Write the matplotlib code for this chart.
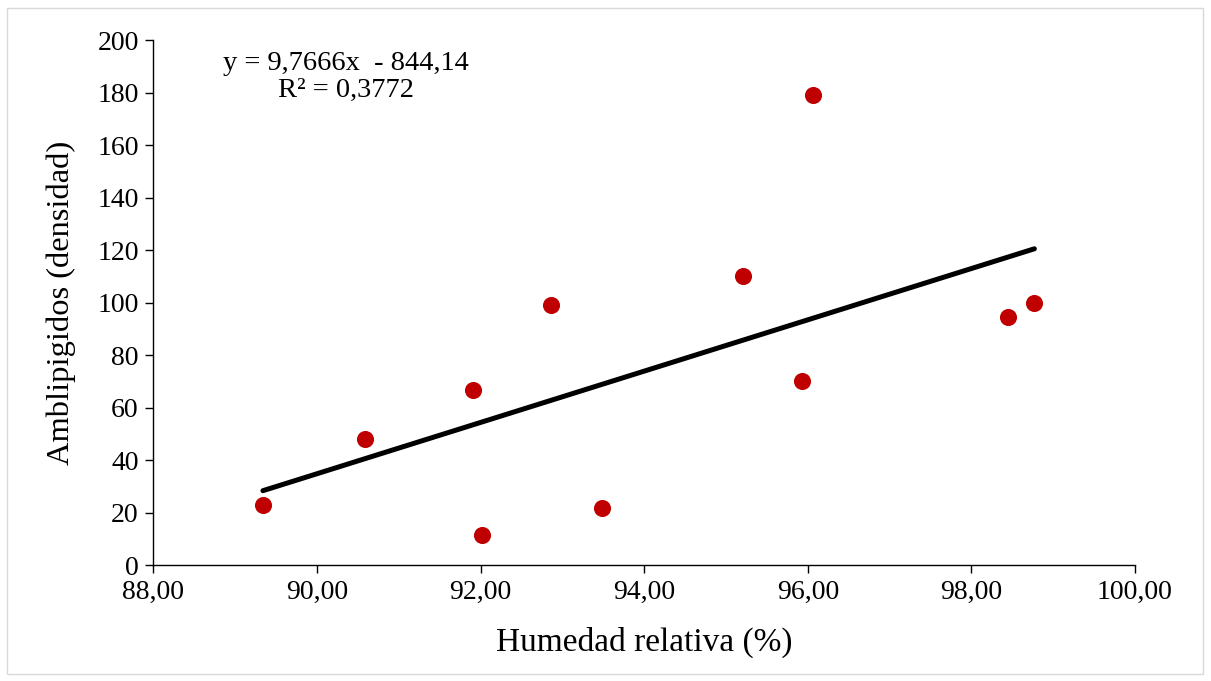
import matplotlib
matplotlib.use("Agg")
import matplotlib.pyplot as plt
from matplotlib.patches import Rectangle
import numpy as np

plt.rcParams['font.family'] = ['Liberation Serif', 'DejaVu Serif']

humedad = [89.34, 90.59, 91.91, 92.02, 92.86, 93.48, 95.21, 95.93, 96.07, 98.45, 98.77]
densidad = [22.9, 48.0, 66.7, 11.6, 99.2, 21.8, 110.0, 70.1, 179.1, 94.7, 100.0]
slope = 9.7666
intercept = -844.14
eq_text = "y = 9,7666x  - 844,14\nR² = 0,3772"
xticks = [88, 90, 92, 94, 96, 98, 100]
yticks = list(range(0, 201, 20))

fig = plt.figure(figsize=(12.11, 6.81), dpi=100)
ax = fig.add_axes([153.3/1211, 1-565.3/681, (1135-153.3)/1211, (565.3-40)/681])

ax.scatter(humedad, densidad, s=12.3**2, color='#c00000', zorder=3, linewidths=0)
xs = np.array([min(humedad), max(humedad)])
ax.plot(xs, slope*xs + intercept, color='black', lw=3.6, solid_capstyle='round', zorder=2)

ax.set_xlim(88, 100)
ax.set_ylim(0, 200)
ax.set_xticks(xticks)
ax.set_xticklabels([f"{v:.2f}".replace('.', ',') for v in xticks])
ax.set_yticks(yticks)
for s in ['top', 'right']:
    ax.spines[s].set_visible(False)
for s in ['left', 'bottom']:
    ax.spines[s].set_linewidth(1.0)
ax.tick_params(axis='both', direction='out', length=5.5, width=1.0, labelsize=20, pad=5)
ax.set_xlabel("Humedad relativa (%)", fontsize=24, labelpad=16)
ax.set_ylabel("Amblipigidos (densidad)", fontsize=23.4, labelpad=15)

fig.text(346/1211, 1-77/681, eq_text, ha='center', va='center', fontsize=20.5, linespacing=1.13)

fig.patches.append(Rectangle((7/1211, 7/681), (1203-7)/1211, (673-7)/681, transform=fig.transFigure,
                             fill=False, edgecolor='#d9d9d9', lw=1.0))

fig.savefig("out.png", dpi=100)
